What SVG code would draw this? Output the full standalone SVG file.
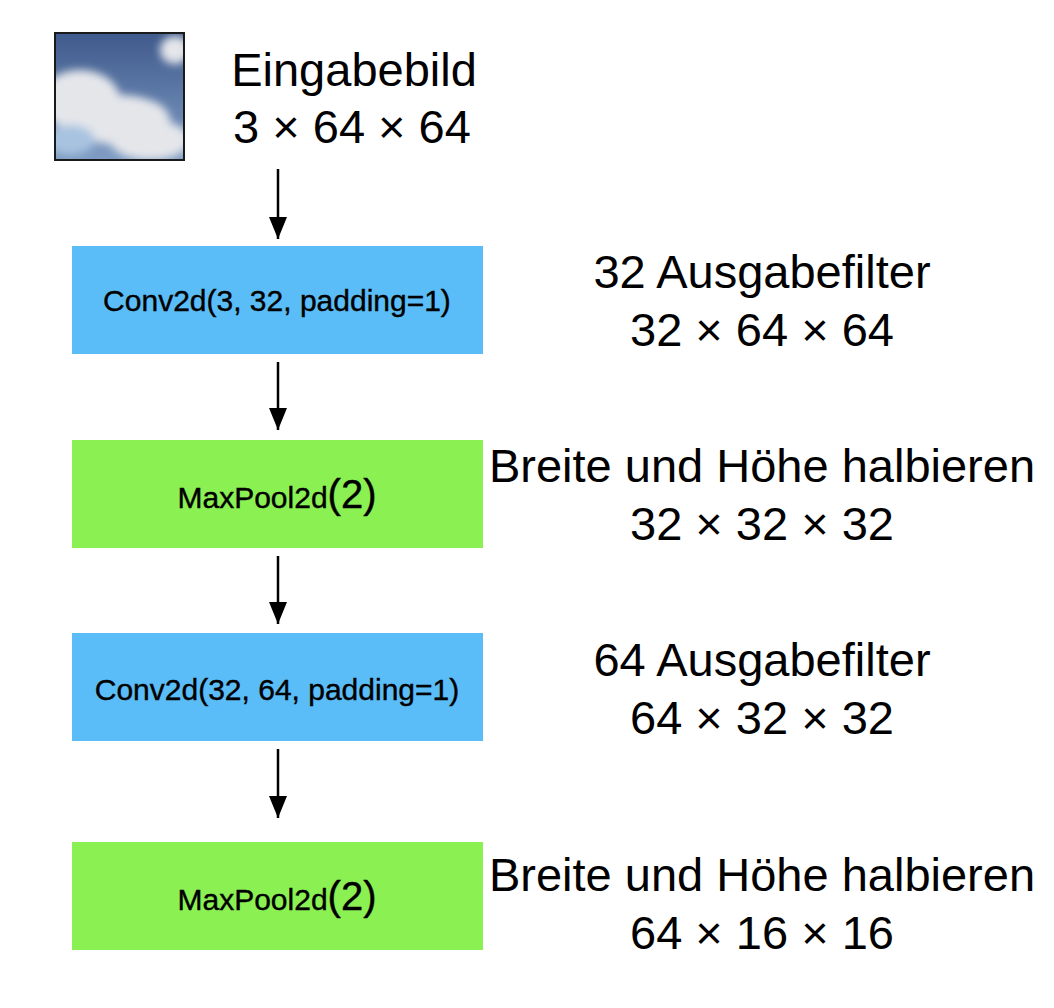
<svg xmlns="http://www.w3.org/2000/svg" width="1054" height="1008" viewBox="0 0 1054 1008">
<style>
.lbl{font-family:"Liberation Sans",Arial,sans-serif;font-size:47px;fill:#000;text-anchor:middle}
.box{font-family:"Liberation Sans",Arial,sans-serif;font-size:30px;fill:#000;text-anchor:middle;stroke:#000;stroke-width:0.4}
.blue{fill:#5bbdf7}.green{fill:#8bf052}
</style>
<defs>
<marker id="ah" markerWidth="22" markerHeight="18" refX="22" refY="9" orient="auto" markerUnits="userSpaceOnUse"><path d="M0,0 L22,9 L0,18 z" fill="#000"/></marker>
<linearGradient id="sky" x1="0" y1="0" x2="0" y2="1"><stop offset="0" stop-color="#3f5a8c"/><stop offset="1" stop-color="#7f9cc4"/></linearGradient>
<filter id="bl"><feGaussianBlur stdDeviation="4"/></filter>
<clipPath id="cp"><rect x="56" y="34" width="127" height="125"/></clipPath>
</defs>
<rect width="1054" height="1008" fill="#fff"/>
<g id="input">
<rect x="54" y="32" width="131" height="129" fill="#1a1a1a"/>
<g clip-path="url(#cp)">
<rect x="56" y="34" width="127" height="125" fill="url(#sky)"/>
<g filter="url(#bl)" fill="#e4e6ea">
<ellipse cx="80" cy="100" rx="40" ry="30"/>
<ellipse cx="120" cy="120" rx="50" ry="25"/>
<ellipse cx="150" cy="140" rx="40" ry="20"/>
<ellipse cx="175" cy="50" rx="15" ry="14"/>
<ellipse cx="70" cy="140" rx="25" ry="15" fill="#a8c3e0"/>
</g>
</g>
<text class="lbl" x="354" y="86">Eingabebild</text>
<text class="lbl" x="352" y="143">3 × 64 × 64</text>
</g>
<g id="conv1"><rect class="blue" x="72" y="246" width="411" height="108"/><text class="box" x="277" y="311">Conv2d(3, 32, padding=1)</text>
<text class="lbl" x="762" y="288">32 Ausgabefilter</text><text class="lbl" x="762" y="346">32 × 64 × 64</text></g>
<g id="pool1"><rect class="green" x="72" y="440" width="411" height="108"/><text class="box" x="277" y="508">MaxPool2d<tspan font-size="40px">(2)</tspan></text>
<text class="lbl" x="762" y="482">Breite und Höhe halbieren</text><text class="lbl" x="762" y="540">32 × 32 × 32</text></g>
<g id="conv2"><rect class="blue" x="72" y="633" width="411" height="108"/><text class="box" x="277" y="700">Conv2d(32, 64, padding=1)</text>
<text class="lbl" x="762" y="676">64 Ausgabefilter</text><text class="lbl" x="762" y="734">64 × 32 × 32</text></g>
<g id="pool2"><rect class="green" x="72" y="842" width="411" height="108"/><text class="box" x="277" y="910">MaxPool2d<tspan font-size="40px">(2)</tspan></text>
<text class="lbl" x="762" y="891">Breite und Höhe halbieren</text><text class="lbl" x="762" y="949">64 × 16 × 16</text></g>
<g id="connectors" stroke="#000" stroke-width="2.5" marker-end="url(#ah)">
<line x1="278" y1="169" x2="278" y2="239"/>
<line x1="278" y1="362" x2="278" y2="430"/>
<line x1="278" y1="556" x2="278" y2="624"/>
<line x1="278" y1="749" x2="278" y2="818"/>
</g>
</svg>
